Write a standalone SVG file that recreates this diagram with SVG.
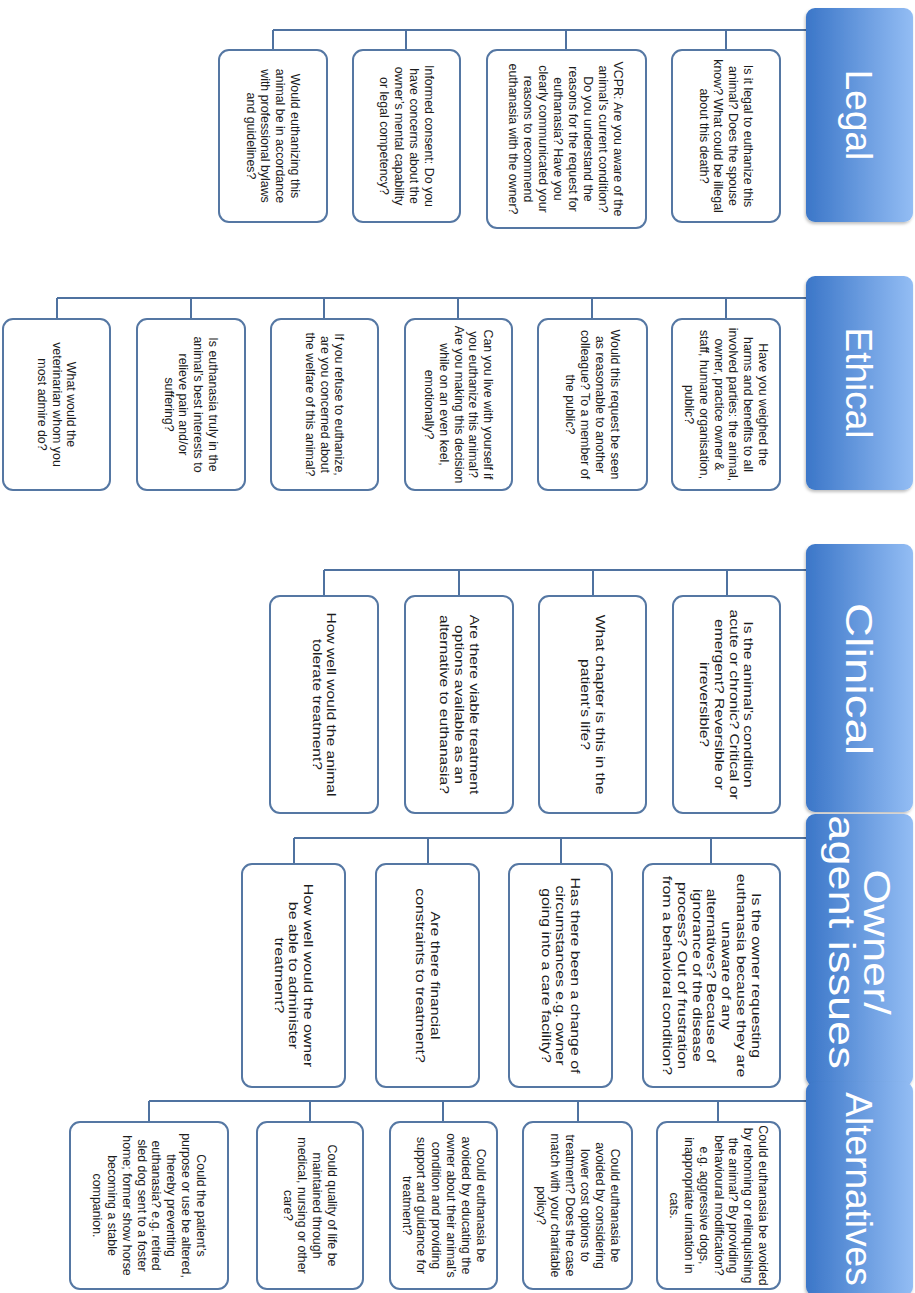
<svg xmlns="http://www.w3.org/2000/svg" width="915" height="1293" viewBox="0 0 915 1293">
<style>
.box{fill:#ffffff;stroke:#5577a3;stroke-width:2}
.hdr{fill:url(#hg);filter:url(#sh)}
.ln{stroke:#4f72a0;stroke-width:2;fill:none}
.t{font-family:"Liberation Sans",Arial,sans-serif;font-size:12.4px;fill:#1c1c1c;text-anchor:middle}
.h{font-family:"Liberation Sans",Arial,sans-serif;font-size:37px;fill:#ffffff;text-anchor:middle}
</style>
<defs>
<linearGradient id="hg" x1="0" y1="0" x2="1" y2="0">
<stop offset="0" stop-color="#3b76c8"/>
<stop offset="1" stop-color="#93bdf4"/>
</linearGradient>
<filter id="sh" x="-10%" y="-10%" width="120%" height="120%">
<feDropShadow dx="-1" dy="2" stdDeviation="1.5" flood-color="#000000" flood-opacity="0.25"/>
</filter>
</defs>
<rect width="915" height="1293" fill="#ffffff"/>

<g id="connectors">
<path class="ln" d="M273 30H806M726 30V50M566 30V50M406 30V50M273 30V50"/>
<path class="ln" d="M57 298H806M726 298V319M592 298V319M458 298V319M324 298V319M191 298V319M57 298V319"/>
<path class="ln" d="M324 570H806M727 570V596M593 570V596M459 570V596M324 570V596"/>
<path class="ln" d="M294 838H806M711 838V864M561 838V864M428 838V864M294 838V864"/>
<path class="ln" d="M149 1101H806M718 1101V1122M578 1101V1122M443 1101V1122M310 1101V1122M149 1101V1122"/>
</g>

<!-- Legal -->
<g id="legal">
<rect class="hdr" x="806" y="8" width="107" height="214" rx="9"/>
<text class="h" transform="translate(859,115) rotate(90)" y="13">Legal</text>
</g>
<g id="legal-1">
<rect class="box" x="672" y="50" width="108" height="172" rx="10"/>
<text class="t" transform="translate(726,136) rotate(90)"><tspan x="0" y="-18">Is it legal to euthanize this</tspan><tspan x="0" y="-3.2">animal? Does the spouse</tspan><tspan x="0" y="11.6">know? What could be illegal</tspan><tspan x="0" y="26.4">about this death?</tspan></text>
</g>
<g id="legal-2">
<rect class="box" x="487" y="50" width="159" height="178" rx="10"/>
<text class="t" transform="translate(566,139) rotate(90)"><tspan x="0" y="-48">VCPR: Are you aware of the</tspan><tspan x="0" y="-33">animal’s current condition?</tspan><tspan x="0" y="-18">Do you understand the</tspan><tspan x="0" y="-3">reasons for the request for</tspan><tspan x="0" y="12">euthanasia? Have you</tspan><tspan x="0" y="27">clearly communicated your</tspan><tspan x="0" y="42">reasons to recommend</tspan><tspan x="0" y="57">euthanasia with the owner?</tspan></text>
</g>
<g id="legal-3">
<rect class="box" x="353" y="50" width="107" height="172" rx="10"/>
<text class="t" transform="translate(406.5,136) rotate(90)"><tspan x="0" y="-18">Informed consent: Do you</tspan><tspan x="0" y="-3.2">have concerns about the</tspan><tspan x="0" y="11.6">owner’s mental capability</tspan><tspan x="0" y="26.4">or legal competency?</tspan></text>
</g>
<g id="legal-4">
<rect class="box" x="219" y="50" width="108" height="172" rx="10"/>
<text class="t" transform="translate(273,136) rotate(90)"><tspan x="0" y="-18">Would euthanizing this</tspan><tspan x="0" y="-3.2">animal be in accordance</tspan><tspan x="0" y="11.6">with professional bylaws</tspan><tspan x="0" y="26.4">and guidelines?</tspan></text>
</g>

<!-- Ethical -->
<g id="ethical">
<rect class="hdr" x="806" y="276" width="107" height="214" rx="9"/>
<text class="h" transform="translate(859,383) rotate(90)" y="13">Ethical</text>
</g>
<g id="ethical-1">
<rect class="box" x="672" y="319" width="108" height="171" rx="10"/>
<text class="t" transform="translate(726,404.5) rotate(90)"><tspan x="0" y="-33">Have you weighed the</tspan><tspan x="0" y="-18.2">harms and benefits to all</tspan><tspan x="0" y="-3.4">involved parties: the animal,</tspan><tspan x="0" y="11.4">owner, practice owner &amp;</tspan><tspan x="0" y="26.2">staff, humane organisation,</tspan><tspan x="0" y="41">public?</tspan></text>
</g>
<g id="ethical-2">
<rect class="box" x="538" y="319" width="109" height="171" rx="10"/>
<text class="t" transform="translate(592.5,404.5) rotate(90)"><tspan x="0" y="-18">Would this request be seen</tspan><tspan x="0" y="-3.2">as reasonable to another</tspan><tspan x="0" y="11.6">colleague? To a member of</tspan><tspan x="0" y="26.4">the public?</tspan></text>
</g>
<g id="ethical-3">
<rect class="box" x="405" y="319" width="107" height="171" rx="10"/>
<text class="t" transform="translate(458.5,404.5) rotate(90)"><tspan x="0" y="-25.6">Can you live with yourself if</tspan><tspan x="0" y="-10.8">you euthanize this animal?</tspan><tspan x="0" y="4">Are you making this decision</tspan><tspan x="0" y="18.8">while on an even keel,</tspan><tspan x="0" y="33.6">emotionally?</tspan></text>
</g>
<g id="ethical-4">
<rect class="box" x="271" y="319" width="107" height="171" rx="10"/>
<text class="t" transform="translate(324.5,404.5) rotate(90)"><tspan x="0" y="-10.8">If you refuse to euthanize,</tspan><tspan x="0" y="4">are you concerned about</tspan><tspan x="0" y="18.8">the welfare of this animal?</tspan></text>
</g>
<g id="ethical-5">
<rect class="box" x="137" y="319" width="108" height="171" rx="10"/>
<text class="t" transform="translate(191,404.5) rotate(90)"><tspan x="0" y="-18">Is euthanasia truly in the</tspan><tspan x="0" y="-3.2">animal’s best interests to</tspan><tspan x="0" y="11.6">relieve pain and/or</tspan><tspan x="0" y="26.4">suffering?</tspan></text>
</g>
<g id="ethical-6">
<rect class="box" x="3" y="319" width="107" height="171" rx="10"/>
<text class="t" transform="translate(56.5,404.5) rotate(90)"><tspan x="0" y="-10.8">What would the</tspan><tspan x="0" y="4">veterinarian whom you</tspan><tspan x="0" y="18.8">most admire do?</tspan></text>
</g>

<!-- Clinical -->
<g id="clinical">
<rect class="hdr" x="806" y="544" width="107" height="268" rx="9"/>
<text class="h" transform="translate(859,679) scale(1,1.28) rotate(90)" y="13">Clinical</text>
</g>
<g id="clinical-1">
<rect class="box" x="673" y="596" width="107" height="217" rx="10"/>
<text class="t" transform="translate(726.5,704.5) scale(1,1.26) rotate(90)"><tspan x="0" y="-18">Is the animal’s condition</tspan><tspan x="0" y="-3.2">acute or chronic? Critical or</tspan><tspan x="0" y="11.6">emergent? Reversible or</tspan><tspan x="0" y="26.4">irreversible?</tspan></text>
</g>
<g id="clinical-2">
<rect class="box" x="539" y="596" width="107" height="217" rx="10"/>
<text class="t" transform="translate(592.5,704.5) scale(1,1.26) rotate(90)"><tspan x="0" y="-3.4">What chapter is this in the</tspan><tspan x="0" y="11.4">patient’s life?</tspan></text>
</g>
<g id="clinical-3">
<rect class="box" x="405" y="596" width="108" height="217" rx="10"/>
<text class="t" transform="translate(459,704.5) scale(1,1.26) rotate(90)"><tspan x="0" y="-10.8">Are there viable treatment</tspan><tspan x="0" y="4">options available as an</tspan><tspan x="0" y="18.8">alternative to euthanasia?</tspan></text>
</g>
<g id="clinical-4">
<rect class="box" x="270" y="596" width="108" height="217" rx="10"/>
<text class="t" transform="translate(324,704.5) scale(1,1.26) rotate(90)"><tspan x="0" y="-3.4">How well would the animal</tspan><tspan x="0" y="11.4">tolerate treatment?</tspan></text>
</g>

<!-- Owner / agent issues -->
<g id="owner">
<rect class="hdr" x="806" y="814" width="107" height="272" rx="9"/>
<text class="h" transform="translate(859,942) scale(1,1.22) rotate(90)"><tspan x="0" y="-5">Owner/</tspan><tspan x="0" y="30">agent issues</tspan></text>
</g>
<g id="owner-1">
<rect class="box" x="643" y="864" width="137" height="223" rx="10"/>
<text class="t" transform="translate(711.5,975.5) scale(1,1.28) rotate(90)"><tspan x="0" y="-40.4">Is the owner requesting</tspan><tspan x="0" y="-25.6">euthanasia because they are</tspan><tspan x="0" y="-10.8">unaware of any</tspan><tspan x="0" y="4">alternatives? Because of</tspan><tspan x="0" y="18.8">ignorance of the disease</tspan><tspan x="0" y="33.6">process? Out of frustration</tspan><tspan x="0" y="48.4">from a behavioral condition?</tspan></text>
</g>
<g id="owner-2">
<rect class="box" x="509" y="864" width="103" height="223" rx="10"/>
<text class="t" transform="translate(560.5,975.5) scale(1,1.28) rotate(90)"><tspan x="0" y="-10.8">Has there been a change of</tspan><tspan x="0" y="4">circumstances e.g. owner</tspan><tspan x="0" y="18.8">going into a care facility?</tspan></text>
</g>
<g id="owner-3">
<rect class="box" x="376" y="864" width="103" height="223" rx="10"/>
<text class="t" transform="translate(427.5,975.5) scale(1,1.28) rotate(90)"><tspan x="0" y="-3.4">Are there financial</tspan><tspan x="0" y="11.4">constraints to treatment?</tspan></text>
</g>
<g id="owner-4">
<rect class="box" x="242" y="864" width="103" height="223" rx="10"/>
<text class="t" transform="translate(293.5,975.5) scale(1,1.28) rotate(90)"><tspan x="0" y="-10.8">How well would the owner</tspan><tspan x="0" y="4">be able to administer</tspan><tspan x="0" y="18.8">treatment?</tspan></text>
</g>

<!-- Alternatives -->
<g id="alternatives">
<rect class="hdr" x="806" y="1082" width="107" height="214" rx="9"/>
<text class="h" transform="translate(859,1189) rotate(90)" y="13">Alternatives</text>
</g>
<g id="alt-1">
<rect class="box" x="657" y="1122" width="123" height="167" rx="10"/>
<text class="t" transform="translate(718.5,1205.5) rotate(90)"><tspan x="0" y="-40.4">Could euthanasia be avoided</tspan><tspan x="0" y="-25.6">by rehoming or relinquishing</tspan><tspan x="0" y="-10.8">the animal? By providing</tspan><tspan x="0" y="4">behavioural modification?</tspan><tspan x="0" y="18.8">e.g. aggressive dogs,</tspan><tspan x="0" y="33.6">inappropriate urination in</tspan><tspan x="0" y="48.4">cats.</tspan></text>
</g>
<g id="alt-2">
<rect class="box" x="523" y="1122" width="109" height="167" rx="10"/>
<text class="t" transform="translate(577.5,1205.5) rotate(90)"><tspan x="0" y="-33">Could euthanasia be</tspan><tspan x="0" y="-18.2">avoided by considering</tspan><tspan x="0" y="-3.4">lower cost options to</tspan><tspan x="0" y="11.4">treatment? Does the case</tspan><tspan x="0" y="26.2">match with your charitable</tspan><tspan x="0" y="41">policy?</tspan></text>
</g>
<g id="alt-3">
<rect class="box" x="390" y="1122" width="107" height="167" rx="10"/>
<text class="t" transform="translate(443.5,1205.5) rotate(90)"><tspan x="0" y="-33">Could euthanasia be</tspan><tspan x="0" y="-18.2">avoided by educating the</tspan><tspan x="0" y="-3.4">owner about their animal’s</tspan><tspan x="0" y="11.4">condition and providing</tspan><tspan x="0" y="26.2">support and guidance for</tspan><tspan x="0" y="41">treatment?</tspan></text>
</g>
<g id="alt-4">
<rect class="box" x="257" y="1122" width="106" height="167" rx="10"/>
<text class="t" transform="translate(310,1205.5) rotate(90)"><tspan x="0" y="-18">Could quality of life be</tspan><tspan x="0" y="-3.2">maintained through</tspan><tspan x="0" y="11.6">medical, nursing or other</tspan><tspan x="0" y="26.4">care?</tspan></text>
</g>
<g id="alt-5">
<rect class="box" x="70" y="1122" width="158" height="167" rx="10"/>
<text class="t" transform="translate(149,1205.5) rotate(90)"><tspan x="0" y="-47.8">Could the patient’s</tspan><tspan x="0" y="-33">purpose or use be altered,</tspan><tspan x="0" y="-18.2">thereby preventing</tspan><tspan x="0" y="-3.4">euthanasia? e.g. retired</tspan><tspan x="0" y="11.4">sled dog sent to a foster</tspan><tspan x="0" y="26.2">home; former show horse</tspan><tspan x="0" y="41">becoming a stable</tspan><tspan x="0" y="55.8">companion.</tspan></text>
</g>
</svg>
